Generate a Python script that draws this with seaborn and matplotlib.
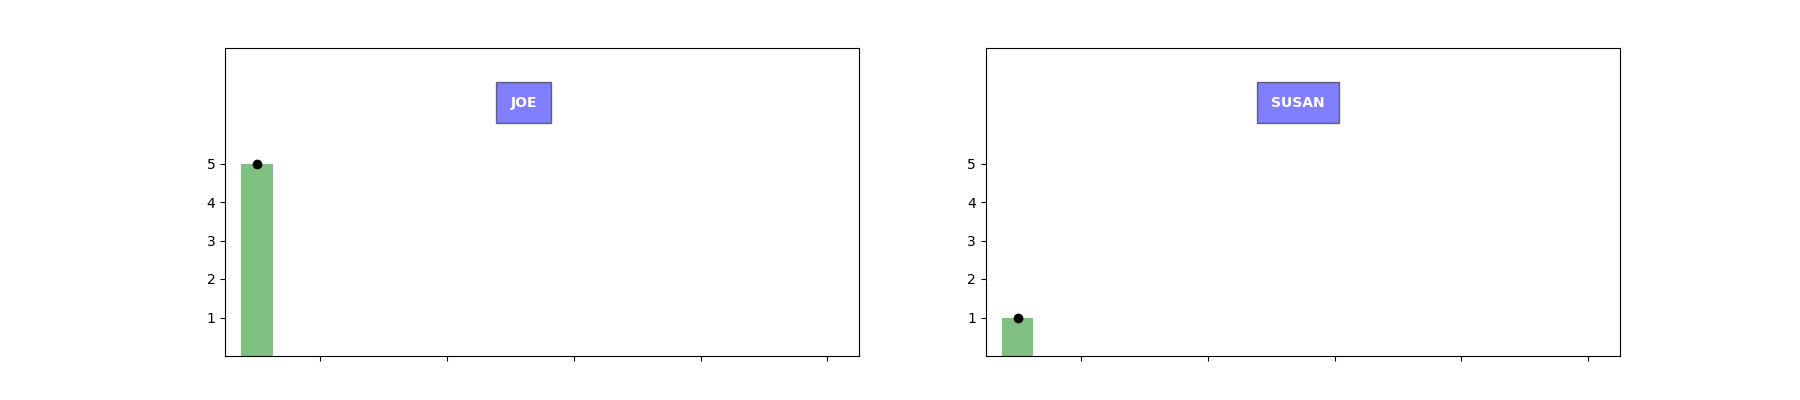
import matplotlib
matplotlib.use('Agg')
import matplotlib.pyplot as plt
import pandas as pd
import seaborn as sns

names = ['JOE', 'SUSAN']
positions = [0.5, 0.5]
counts = [5, 1]
xtick_positions = [1, 2, 3, 4, 5]
ytick_values = [1, 2, 3, 4, 5]

sns.set_style('ticks')
plt.rcParams['font.family'] = ['DejaVu Sans']

fig, axes = plt.subplots(1, 2, figsize=(18, 4), dpi=100)

for ax, name, pos, count in zip(axes, names, positions, counts):
    df = pd.DataFrame({'x': [pos], 'y': [count]})
    sns.barplot(data=df, x='x', y='y', native_scale=True, width=0.25,
                color='green', alpha=0.5, saturation=1, linewidth=0, ax=ax)
    sns.scatterplot(data=df, x='x', y='y', color='black', s=36,
                    edgecolor='black', linewidth=1, zorder=3, ax=ax)
    ax.set_xlim(0.25, 5.25)
    ax.set_ylim(0, 8)
    ax.set_xticks(xtick_positions)
    ax.set_xticklabels([''] * len(xtick_positions))
    ax.set_yticks(ytick_values)
    ax.set_xlabel('')
    ax.set_ylabel('')
    for side in ax.spines.values():
        side.set_visible(True)
        side.set_color('black')
        side.set_linewidth(0.8)
    ax.tick_params(direction='out', length=3.5, width=0.8, colors='black', labelsize=10)
    ax.text(0.45, 0.81, name, transform=ax.transAxes, color='white', weight='bold',
            fontsize=10, bbox=dict(facecolor='blue', edgecolor='black', linewidth=1,
                                   alpha=0.5, pad=10))

plt.savefig('out.png')
plt.close()
